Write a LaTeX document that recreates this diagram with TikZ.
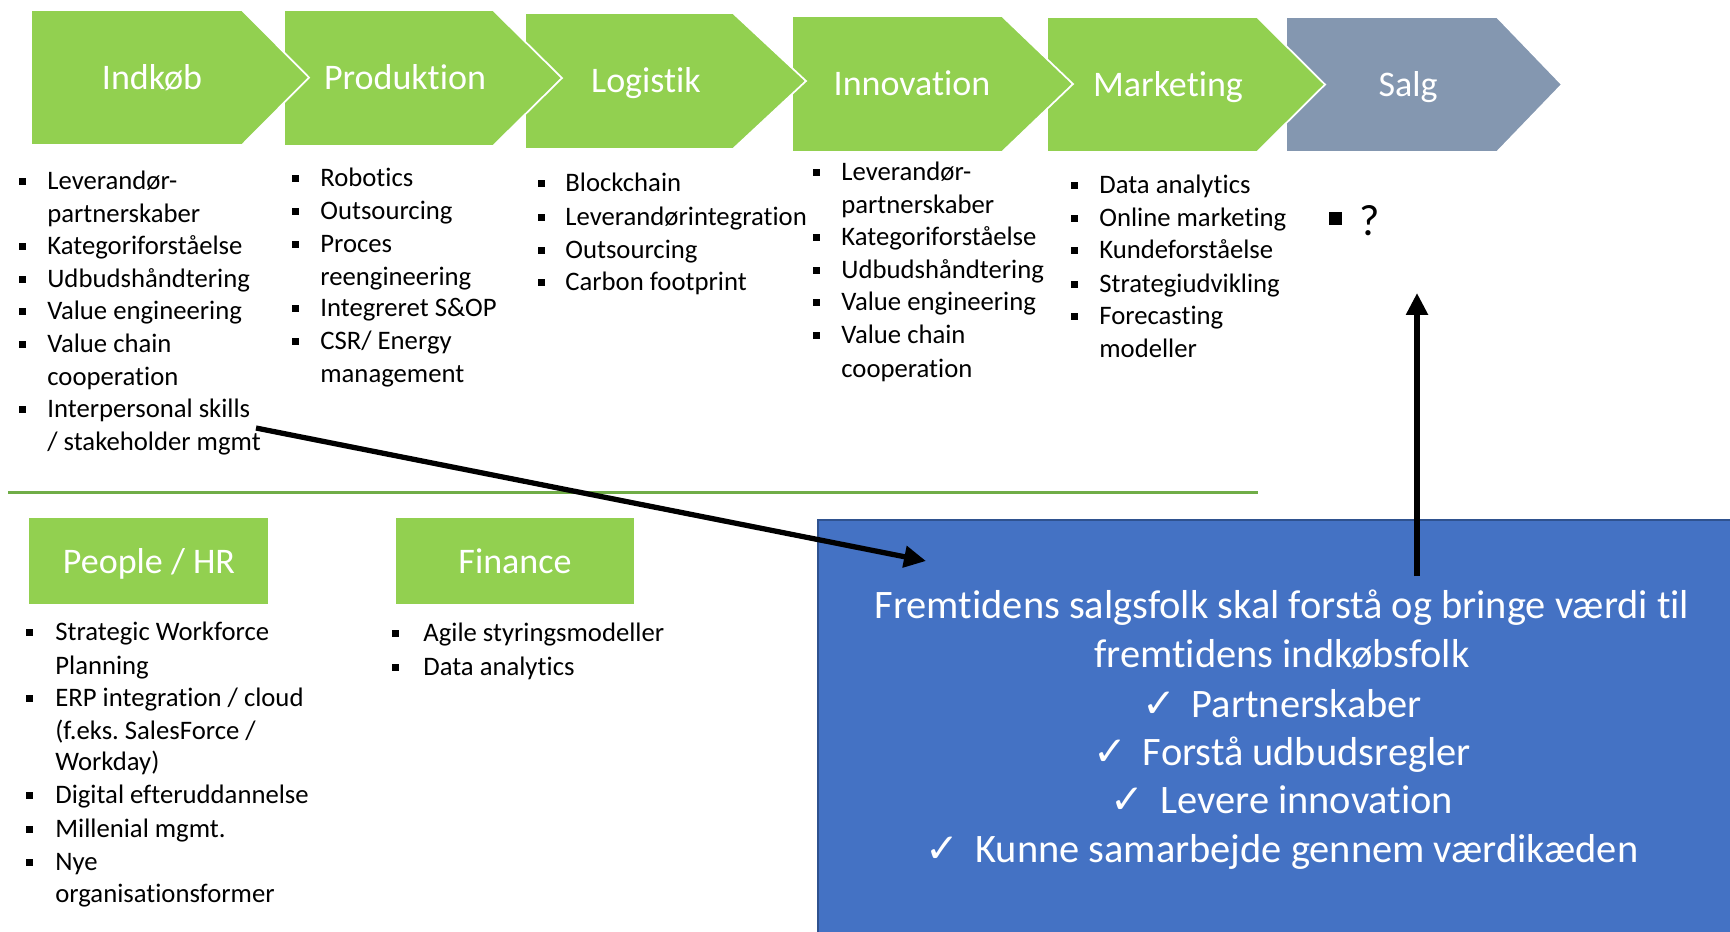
\documentclass[tikz,border=0pt]{standalone}
\usepackage{fontspec}
\setmainfont{Carlito}[Ligatures=NoCommon]
\newfontfamily\symfont{DejaVu Sans}
\usetikzlibrary{arrows.meta}
\frenchspacing

\definecolor{chevgreen}{HTML}{92D050}
\definecolor{chevgrey}{HTML}{8497B0}
\definecolor{msgblue}{HTML}{4472C4}
\definecolor{msgedge}{HTML}{2F528F}
\definecolor{rulegreen}{HTML}{70AD47}

\tikzset{
  chev/.style={fill=chevgreen, draw=white, line width=1pt, line join=miter},
  chevsalg/.style={chev, fill=chevgrey},
  chevlabel/.style={text=white, font=\fontsize{20.5}{24}\selectfont, anchor=base, inner sep=0pt},
  areabox/.style={fill=chevgreen},
  itemtext/.style={font=\fontsize{15.2}{18}\selectfont, anchor=base west, inner sep=0pt},
  msgtext/.style={text=white, font=\fontsize{23}{28}\selectfont, anchor=base, inner sep=0pt},
  bigarrow/.style={line width=3pt, -{Triangle[length=12.5pt,width=12pt]}},
}

% homeplate arrow: style, left, flat right end, tip, top, bottom
\newcommand\chevron[6]{\path[#1] (#2,#5) -- (#3,#5) -- (#4,{(#5+#6)/2}) -- (#3,#6) -- (#2,#6) -- cycle;}
% bulleted line: name, bullet x, text x, line centre y, text
\newcommand\bitem[5]{\fill (#2,#4-3.5) rectangle ++(7,7); \node[itemtext] (#1) at (#3,#4+8.5) {#5};}
% continuation line: name, text x, line centre y, text
\newcommand\citem[4]{\node[itemtext] (#1) at (#2,#3+8.5) {#4};}
\newcommand\chk{{\symfont ✓}\hspace{9pt}}

\begin{document}
\begin{tikzpicture}[x=0.02cm, y=-0.02cm]
\useasboundingbox (0,0) rectangle (1730,931);
\clip (0,0) rectangle (1730,931);
\fill[white] (0,0) rectangle (1730,931);

% process chain, drawn right to left so each tip lies over its successor
\chevron{chevsalg}{1286}{1497}{1562}{17}{152}
\chevron{chev}{1047}{1257}{1325}{17}{152}
\chevron{chev}{792}{1002}{1073}{16}{152}
\chevron{chev}{525}{733}{806}{13}{149}
\chevron{chev}{284}{493}{562}{10}{146}
\chevron{chev}{31}{242}{309}{10}{145}

\node[chevlabel] (indkob) at (152,89) {Indkøb};
\node[chevlabel] (produktion) at (405,89) {Produktion};
\node[chevlabel] (logistik) at (646,92) {Logistik};
\node[chevlabel] (innovation) at (912,95) {Innovation};
\node[chevlabel] (marketing) at (1168,96) {Marketing};
\node[chevlabel] (salg) at (1408,96) {Salg};

% Indkøb
\bitem{ind1}{19}{47}{181}{Leverandør-}
\citem{ind2}{47}{214}{partnerskaber}
\bitem{ind3}{19}{47}{246}{Kategoriforståelse}
\bitem{ind4}{19}{47}{279}{Udbudshåndtering}
\bitem{ind5}{19}{47}{311}{Value engineering}
\bitem{ind6}{19}{47}{344}{Value chain}
\citem{ind7}{47}{377}{cooperation}
\bitem{ind8}{19}{47}{409}{Interpersonal skills}
\citem{ind9}{47}{442}{/ stakeholder mgmt}

% Produktion
\bitem{pro1}{292}{320}{178}{Robotics}
\bitem{pro2}{292}{320}{211}{Outsourcing}
\bitem{pro3}{292}{320}{244}{Proces}
\citem{pro4}{320}{277}{reengineering}
\bitem{pro5}{292}{320}{308}{Integreret S\&OP}
\bitem{pro6}{292}{320}{341}{CSR/ Energy}
\citem{pro7}{320}{374}{management}

% Logistik
\bitem{log1}{538}{565}{183}{Blockchain}
\bitem{log2}{538}{565}{217}{Leverandørintegration}
\bitem{log3}{538}{565}{250}{Outsourcing}
\bitem{log4}{538}{565}{282}{Carbon footprint}

% Innovation
\bitem{inn1}{813}{841}{172}{Leverandør-}
\citem{inn2}{841}{205}{partnerskaber}
\bitem{inn3}{813}{841}{237}{Kategoriforståelse}
\bitem{inn4}{813}{841}{270}{Udbudshåndtering}
\bitem{inn5}{813}{841}{302}{Value engineering}
\bitem{inn6}{813}{841}{335}{Value chain}
\citem{inn7}{841}{369}{cooperation}

% Marketing
\bitem{mar1}{1071}{1099}{185}{Data analytics}
\bitem{mar2}{1071}{1099}{218}{Online marketing}
\bitem{mar3}{1071}{1099}{250}{Kundeforståelse}
\bitem{mar4}{1071}{1099}{284}{Strategiudvikling}
\bitem{mar5}{1071}{1099}{316}{Forecasting}
\citem{mar6}{1099}{349}{modeller}

% Salg
\fill (1329,212) rectangle (1342,225);
\node[anchor=base west, inner sep=0pt, font=\fontsize{25}{30}\selectfont] (sal1) at (1359,235) {?};

% separator
\draw[rulegreen, line width=1.7pt] (8,492) -- (1258,492);

% support functions
\fill[areabox] (29,518) rectangle (268,604);
\node[chevlabel] (people) at (149,573) {People / HR};
\fill[areabox] (396,518) rectangle (634,604);
\node[chevlabel] (finance) at (515,573) {Finance};

\bitem{hr1}{26}{55}{632}{Strategic Workforce}
\citem{hr2}{55}{666}{Planning}
\bitem{hr3}{26}{55}{698}{ERP integration / cloud}
\citem{hr4}{55}{731}{(f.eks. SalesForce /}
\citem{hr5}{55}{762}{Workday)}
\bitem{hr6}{26}{55}{795}{Digital efteruddannelse}
\bitem{hr7}{26}{55}{829}{Millenial mgmt.}
\bitem{hr8}{26}{55}{862}{Nye}
\citem{hr9}{55}{894}{organisationsformer}

\bitem{fin1}{392}{423}{633}{Agile styringsmodeller}
\bitem{fin2}{392}{423}{667}{Data analytics}

% message box
\node[draw=msgedge, fill=msgblue, line width=0.9pt, rectangle, anchor=north west,
      minimum width=940*0.02cm, minimum height=440*0.02cm, inner sep=0pt] (msg) at (817,519) {};
\node[msgtext] (m1) at (1282,618) {Fremtidens salgsfolk skal forstå og bringe værdi til};
\node[msgtext] (m2) at (1282,667) {fremtidens indkøbsfolk};
\node[msgtext] (m3) at (1282,717) {\chk Partnerskaber};
\node[msgtext] (m4) at (1282,765) {\chk Forstå udbudsregler};
\node[msgtext] (m5) at (1282,813) {\chk Levere innovation};
\node[msgtext] (m6) at (1282,862) {\chk Kunne samarbejde gennem værdikæden};

% connectors
\coordinate (a1s) at (256,428);
\coordinate (a1e) at (926,561);
\coordinate (a2s) at (1417,576);
\coordinate (a2e) at (1417,293);
\draw[bigarrow] (a1s) -- (a1e);
\draw[bigarrow] (a2s) -- (a2e);
\end{tikzpicture}
\end{document}
